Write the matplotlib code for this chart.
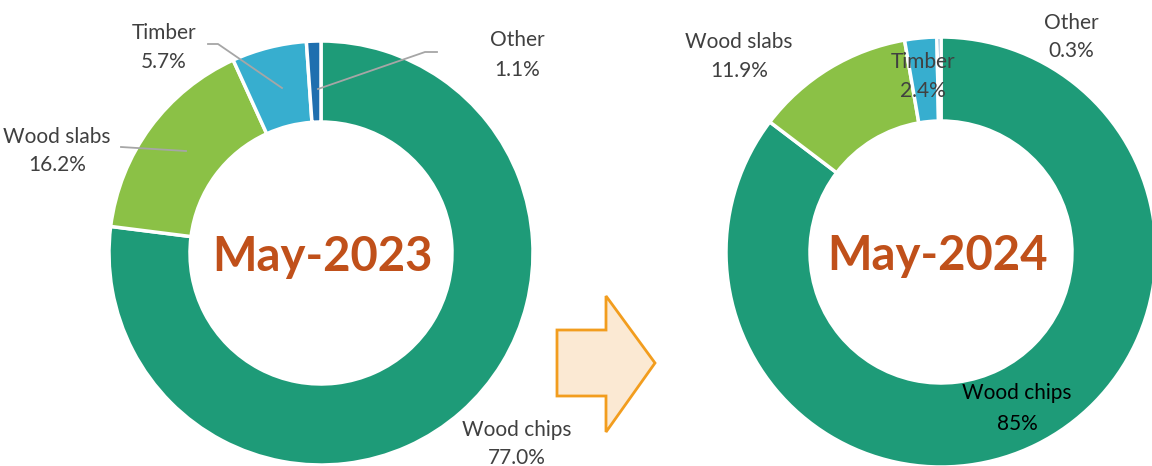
import matplotlib
matplotlib.use("Agg")
import matplotlib.pyplot as plt
from matplotlib.patches import Polygon

plt.rcParams['font.family'] = ['Lato', 'DejaVu Sans']

categories = ['Wood chips', 'Wood slabs', 'Timber', 'Other']
share_2023 = [77.0, 16.2, 5.7, 1.1]
share_2024 = [85.0, 11.9, 2.4, 0.3]
labels_2023 = ['77.0%', '16.2%', '5.7%', '1.1%']
labels_2024 = ['85%', '11.9%', '2.4%', '0.3%']
colors = ['#1e9b78', '#8bc146', '#37aecf', '#1f6faf']

W, H = 1152, 466
fig = plt.figure(figsize=(W / 100, H / 100), dpi=100)
ax = fig.add_axes([0, 0, 1, 1])

def Y(y):
    # image pixel row -> data y
    return H - y

# donuts
ax.pie(share_2023, colors=colors, startangle=90, counterclock=False,
       center=(321, Y(253)), radius=212,
       wedgeprops=dict(width=81, edgecolor='white', linewidth=2.5))
ax.pie(share_2024, colors=colors, startangle=90, counterclock=False,
       center=(941, Y(252)), radius=215,
       wedgeprops=dict(width=84, edgecolor='white', linewidth=2.5))

ax.set_xlim(0, W)
ax.set_ylim(0, H)
ax.set_aspect('auto')
ax.axis('off')

txt = '#404040'
fs = 15

def label(x, y1, y2, cat, val, color):
    # two-line data label, baselines in image pixels
    ax.text(x, Y(y1), cat, ha='center', va='baseline', fontsize=fs, color=color)
    ax.text(x, Y(y2), val, ha='center', va='baseline', fontsize=fs, color=color)

# left labels: x, first baseline, second baseline
left_pos = [(517, 436, 464), (57, 143, 171), (164, 39, 68), (517, 46, 76)]
for cat, lab, (x, b1, b2) in zip(categories, labels_2023, left_pos):
    label(x, b1, b2, cat, lab, txt)

# leader lines left chart
lc = '#a6a6a6'
ax.plot([121, 186], [Y(147), Y(151)], color=lc, lw=1.3)
ax.plot([208, 218, 282], [Y(44), Y(44), Y(88)], color=lc, lw=1.3)
ax.plot([437, 425, 318], [Y(52), Y(52), Y(89)], color=lc, lw=1.3)

# right labels
right_pos = [(1017, 399, 430), (739, 48, 77), (923, 68, 97), (1071, 29, 57)]
for i, (cat, lab, (x, b1, b2)) in enumerate(zip(categories, labels_2024, right_pos)):
    label(x, b1, b2, cat, lab, 'black' if i == 0 else txt)

# centre titles
ax.text(323, Y(271), 'May-2023', ha='center', va='baseline', fontsize=34,
        fontweight='bold', color='#c0501a')
ax.text(938, Y(270), 'May-2024', ha='center', va='baseline', fontsize=34,
        fontweight='bold', color='#c0501a')

# arrow
arrow = [(557, 330), (606, 330), (606, 296), (655, 363), (606, 432),
         (606, 396), (557, 396)]
ax.add_patch(Polygon([(x, Y(y)) for x, y in arrow], closed=True,
                     facecolor='#fbe9d3', edgecolor='#f29d1e', lw=2))

fig.savefig('out.png', dpi=100)
